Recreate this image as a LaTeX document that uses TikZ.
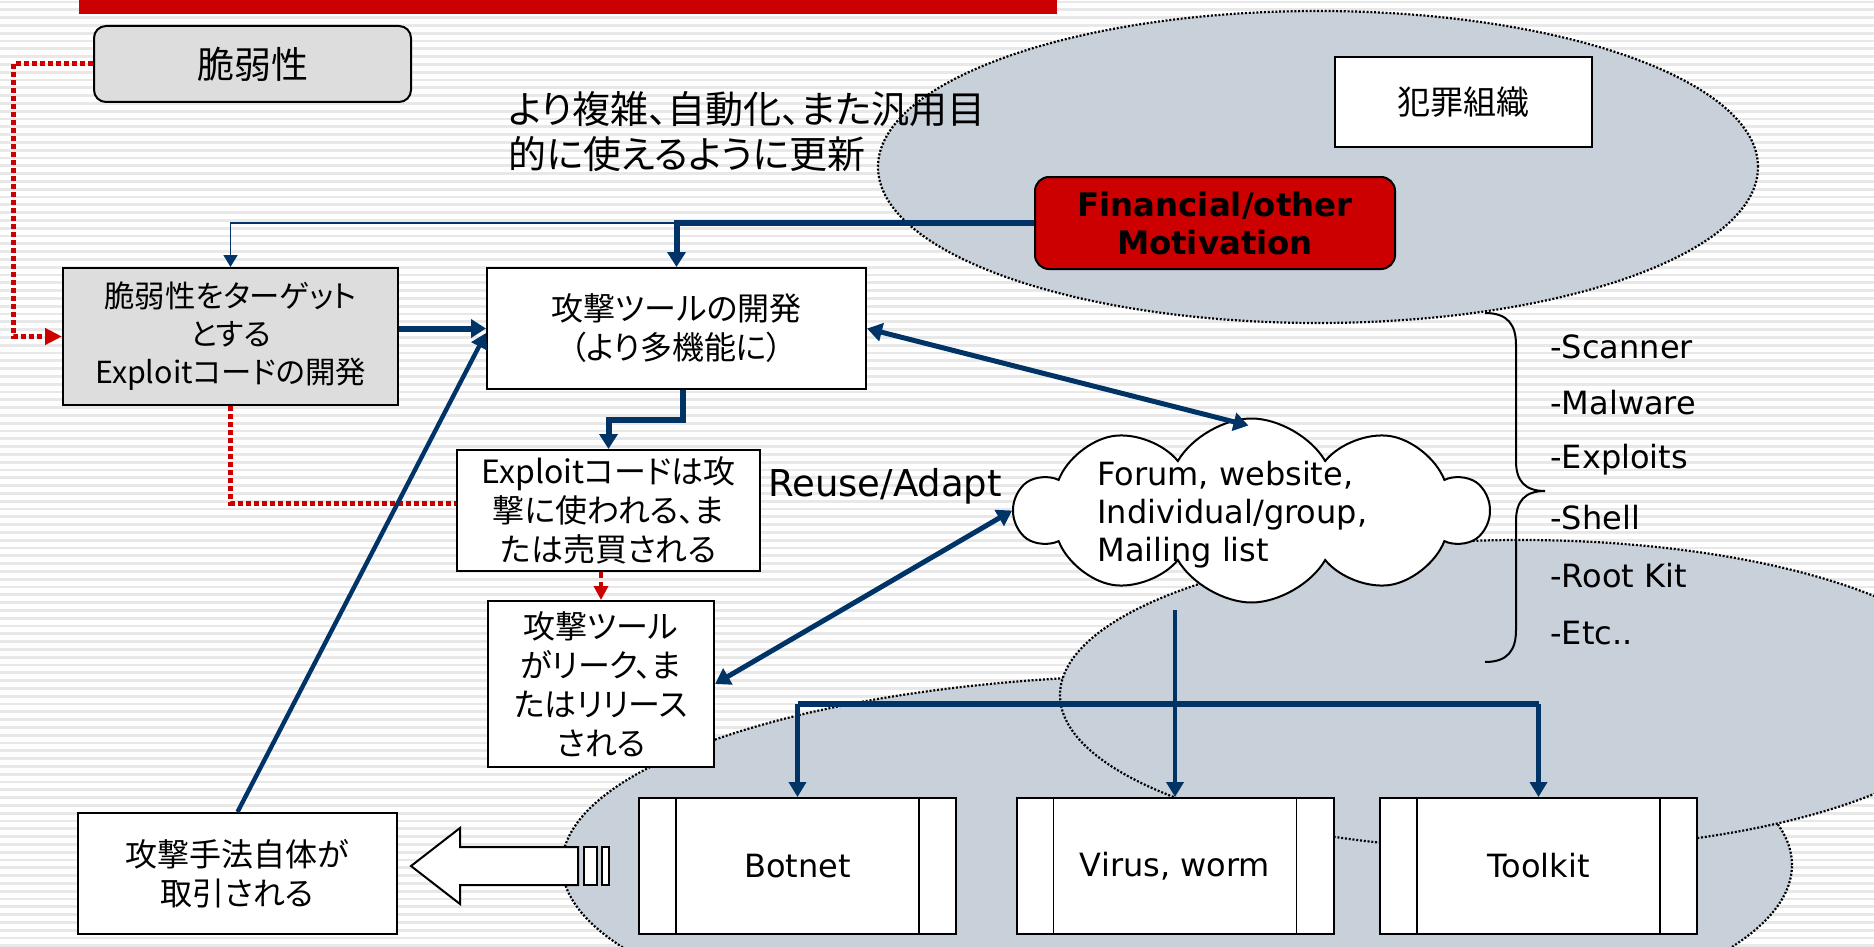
\documentclass[tikz,border=0pt]{standalone}
\usepackage{fontspec}
\setmainfont{DejaVu Sans}
\newfontfamily\jp[RawFeature=+palt]{Noto Sans CJK JP}
\usetikzlibrary{arrows.meta,shapes.symbols,calc}
\definecolor{navy}{HTML}{003366}
\definecolor{pptred}{HTML}{CC0000}
\definecolor{ellfill}{HTML}{C8D0DA}
\definecolor{boxgray}{HTML}{DDDDDD}
\definecolor{stripecol}{HTML}{E8E8E8}
\begin{document}
\begin{tikzpicture}[x=0.5pt,y=-0.5pt,
  jpfont/.style={font=\jp\fontsize{16}{19.5}\selectfont},
  box/.style={draw=black,line width=1pt,fill=white,align=center,inner sep=0pt,jpfont},
  graybox/.style={box,fill=boxgray},
  proc/.style={draw=black,line width=1pt,fill=white,minimum width=158.5pt,minimum height=68pt,
    font=\fontsize{16}{19}\selectfont,
    path picture={\draw[line width=0.8pt]
      ([xshift=18.5pt]path picture bounding box.north west) -- ([xshift=18.5pt]path picture bounding box.south west)
      ([xshift=-18.5pt]path picture bounding box.north east) -- ([xshift=-18.5pt]path picture bounding box.south east);}},
  latin/.style={font=\fontsize{16}{19}\selectfont,inner sep=0pt},
  ell/.style={fill=ellfill,draw=black,line width=1.1pt,dash pattern=on 1pt off 0.9pt},
  thickarr/.style={draw=navy,line width=3pt,-{Triangle[length=7.5pt,width=9pt]}},
  medarr/.style={draw=navy,line width=2.2pt,-{Triangle[length=7.5pt,width=8.5pt]}},
  thinarr/.style={draw=navy,line width=0.8pt,-{Triangle[length=6pt,width=7pt]}},
  dblarr/.style={draw=navy,line width=2.5pt,{Triangle[length=7.5pt,width=9pt]}-{Triangle[length=7.5pt,width=9pt]}},
  reddot/.style={draw=pptred,line width=2.5pt,dash pattern=on 2.5pt off 1.5pt}
]
\useasboundingbox (0,0) rectangle (1874,947);
\clip (0,0) rectangle (1874,947);
% background stripes
\fill[white] (0,0) rectangle (1874,947);
\foreach \yy in {2,9.8,...,948} \draw[stripecol,line width=1.4pt] (0,\yy) -- (1874,\yy);
% title bar
\fill[pptred] (79,0) rectangle (1057,14);
% ellipses
\path[ell] (1177,865) ellipse [x radius=307.5pt, y radius=95pt];
\path[ell] (1520,695) ellipse [x radius=230pt, y radius=77.5pt];
\path[ell] (1318,167) ellipse [x radius=220pt, y radius=78pt];

% text
\node[font=\jp\fontsize{19}{22.5}\selectfont,align=left,anchor=west,inner sep=0pt] (upd) at (508,132)
  {より複雑、自動化、また汎用目\\的に使えるように更新};
\node[latin,font=\fontsize{18.5}{20}\selectfont] (reuse) at (885,486) {Reuse/Adapt};

% nodes
\node[graybox,rounded corners=6pt,minimum width=158.5pt,minimum height=38pt,font=\jp\fontsize{18.5}{20}\selectfont] (vul) at (252.5,64) {脆弱性};
\node[graybox,minimum width=167.5pt,minimum height=68.5pt,font=\jp\fontsize{15.2}{19}\selectfont] (target) at (230.5,336.5)
  {脆弱性をターゲット\\とする\\Exploitコードの開発};
\node[box,minimum width=189.5pt,minimum height=60.5pt] (dev) at (676.5,328.5)
  {攻撃ツールの開発\\（より多機能に）};
\node[box,minimum width=151.5pt,minimum height=60.5pt] (exp) at (608.5,510.5)
  {Exploitコードは攻\\撃に使われる、ま\\たは売買される};
\node[box,minimum width=113pt,minimum height=83pt] (leak) at (601,684)
  {攻撃ツール\\がリーク、ま\\たはリリース\\される};
\node[box,minimum width=159.5pt,minimum height=60.5pt] (trade) at (237.5,873.5)
  {攻撃手法自体が\\取引される};
\node[box,minimum width=128.5pt,minimum height=45pt,font=\jp\fontsize{16.5}{19}\selectfont] (org) at (1463.5,102) {犯罪組織};
\node[draw=black,line width=1pt,fill=pptred,rounded corners=7pt,minimum width=180pt,minimum height=46pt,
  align=center,font=\bfseries\fontsize{16.2}{19}\selectfont,inner sep=0pt] (fin) at (1215,223)
  {Financial/other\\Motivation};

\node[cloud,cloud puffs=10,cloud puff arc=120,aspect=2.6,draw=black,line width=1pt,fill=white,
  minimum width=236pt,minimum height=92pt,inner sep=0pt] (cloud) at (1251.5,510.5) {};
\node[latin,align=left,anchor=west] (cloudtxt) at (1097,515) {Forum, website,\\Individual/group,\\Mailing list};

\node[proc] (botnet) at (797.5,866) {Botnet};
\node[proc] (virus) at (1175,866) {Virus, worm};
\node[proc] (toolkit) at (1538.5,866) {Toolkit};

% list
\node[latin,anchor=west] (l1) at (1550,347) {-Scanner};
\node[latin,anchor=west] (l2) at (1550,403) {-Malware};
\node[latin,anchor=west] (l3) at (1550,460) {-Exploits};
\node[latin,anchor=west] (l4) at (1550,518) {-Shell};
\node[latin,anchor=west] (l5) at (1550,576) {-Root Kit};
\node[latin,anchor=west] (l6) at (1550,633) {-Etc..};

% brace
\draw[line width=1pt] (1485,313) .. controls (1508,313) and (1516,325) .. (1516,345) -- (1516,461)
  .. controls (1516,481) and (1525,491) .. (1545,491)
  .. controls (1525,491) and (1516,501) .. (1516,521) -- (1516,630)
  .. controls (1516,650) and (1508,662) .. (1485,662);

% hollow arrow
\draw[line width=1pt,fill=white] (411,866) -- (460,828) -- (460,847) -- (578,847) -- (578,885) -- (460,885) -- (460,904) -- cycle;
\draw[line width=1pt,fill=white] (584,847) rectangle (597,885);
\draw[line width=1pt,fill=white] (602,847) rectangle (609,885);

% connectors
\draw[thickarr] (fin.west) -| (dev.north);
\draw[thinarr] (dev.north |- fin.west) -| (target.north);
\draw[thickarr] ([yshift=4pt]target.east) -- ([yshift=4pt]target.east -| dev.west);
\draw[thickarr] ([xshift=3pt]dev.south) -- ++(0,30) -| (exp.north);
\draw[reddot,-{Triangle[length=8.5pt,width=8pt]}] (vul.west) -- ++(-80,0) |- (target.west);
\draw[reddot] (target.south) |- ([yshift=3.75pt]exp.west);
\draw[draw=pptred,line width=1.8pt,dash pattern=on 3pt off 2pt,-{Triangle[length=7pt,width=7pt]}] (leak.north |- exp.south) -- (leak.north);
\draw[medarr] (trade.north) -- ([yshift=-2.25pt]dev.west);
\draw[dblarr] (dev.east) -- ([shift={(-3,8)}]cloud.north);
\draw[dblarr] (leak.east) -- (cloud.west);
\coordinate (cb) at (1175,610);
\coordinate (hb) at (1175,704);
\draw[medarr] (cb) -- (virus.north);
\draw[navy,line width=3pt] (botnet.north |- hb) -- (toolkit.north |- hb);
\draw[medarr] (botnet.north |- hb) -- (botnet.north);
\draw[medarr] (toolkit.north |- hb) -- (toolkit.north);
\end{tikzpicture}
\end{document}
